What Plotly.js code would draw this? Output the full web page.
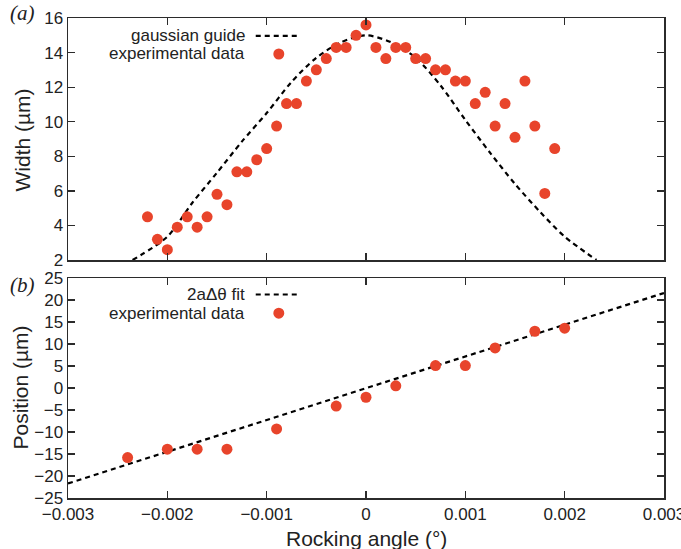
<!DOCTYPE html>
<html>
<head>
<meta charset="utf-8">
<script src="https://cdn.plot.ly/plotly-3.0.1.min.js"></script>
<style>html,body{margin:0;padding:0;background:#fff;}#chart{width:681px;height:549px;}</style>
</head>
<body>
<div id="chart"></div>
<script>
// Panel (a): width vs rocking angle
const widthAngle = [-0.0022,-0.0021,-0.0020,-0.0019,-0.0018,-0.0017,-0.0016,-0.0015,-0.0014,-0.0013,-0.0012,-0.0011,-0.0010,-0.0009,-0.0008,-0.0007,-0.0006,-0.0005,-0.0004,-0.0003,-0.0002,-0.0001,0,0.0001,0.0002,0.0003,0.0004,0.0005,0.0006,0.0007,0.0008,0.0009,0.0010,0.0011,0.0012,0.0013,0.0014,0.0015,0.0016,0.0017,0.0018,0.0019];
const widthValues = [4.5,3.2,2.6,3.9,4.5,3.9,4.5,5.8,5.2,7.1,7.1,7.8,8.45,9.75,11.05,11.05,12.35,13.0,13.65,14.3,14.3,15.0,15.6,14.3,13.65,14.3,14.3,13.65,13.65,13.0,13.0,12.35,12.35,11.05,11.7,9.75,11.05,9.1,12.35,9.75,5.85,8.45];
const guideAngle = [-0.00235,-0.002,-0.00175,-0.0015,-0.00125,-0.001,-0.00075,-0.0005,-0.00025,0,0.00025,0.0005,0.00075,0.001,0.00125,0.0015,0.00175,0.002,0.00232];
const guideWidth = [2.0,3.35,5.3,7.05,8.85,10.5,12.3,13.7,14.6,15.0,14.6,13.7,12.1,10.1,8.2,6.4,4.8,3.35,2.0];

// Panel (b): position vs rocking angle
const posAngle = [-0.0024,-0.0020,-0.0017,-0.0014,-0.0009,-0.0003,0,0.0003,0.0007,0.0010,0.0013,0.0017,0.0020];
const posValues = [-15.8,-13.9,-13.9,-13.9,-9.3,-4.1,-2.1,0.5,5.1,5.1,9.1,12.9,13.6];
const fitAngle = [-0.003,0.003];
const fitPos = [-21.7,21.6];

const xTicks = [-0.003,-0.002,-0.001,0,0.001,0.002,0.003];
const xTickText = ["\u22120.003","\u22120.002","\u22120.001","0","0.001","0.002","0.003"];
const yTicksA = [2,4,6,8,10,12,14,16];
const yTicksB = [-25,-20,-15,-10,-5,0,5,10,15,20,25];
const yTickTextB = ["\u221225","\u221220","\u221215","\u221210","\u22125","0","5","10","15","20","25"];

const RED = '#e8442b';
const DASH = '5px,4px';
const AX = '#2b2b2b';
const FONT = 'Liberation Sans, Arial, sans-serif';
const XR = [-0.0030001, 0.0030001];

const traces = [
  {x: guideAngle, y: guideWidth, xaxis:'x', yaxis:'y', mode:'lines', line:{color:'#000', width:2.2, dash:DASH, shape:'spline', smoothing:0.8}, showlegend:false, hoverinfo:'skip'},
  {x: widthAngle, y: widthValues, xaxis:'x', yaxis:'y', mode:'markers', marker:{color:RED, size:11}, showlegend:false},
  {x: fitAngle, y: fitPos, xaxis:'x2', yaxis:'y2', mode:'lines', line:{color:'#000', width:2.2, dash:DASH}, showlegend:false, hoverinfo:'skip'},
  {x: posAngle, y: posValues, xaxis:'x2', yaxis:'y2', mode:'markers', marker:{color:RED, size:11}, showlegend:false}
];

const axBase = {
  showgrid:false, zeroline:false, showline:true, linecolor:AX, linewidth:1.5,
  mirror:'ticks', ticks:'inside', ticklen:7, tickwidth:1.3, tickcolor:AX,
  ticklabeloverflow:'allow',
  tickfont:{family:FONT, size:17, color:'#222'}
};

const layout = {
  width:681, height:549,
  margin:{l:68, r:17, t:18, b:51},
  paper_bgcolor:'#fff', plot_bgcolor:'#fff',
  showlegend:false,
  xaxis: Object.assign({}, axBase, {domain:[0,1], anchor:'y', range:XR, tickmode:'array', tickvals:xTicks, ticktext:xTickText, showticklabels:false}),
  yaxis: Object.assign({}, axBase, {domain:[0.4958,1], anchor:'x', range:[2,16], tickmode:'array', tickvals:yTicksA}),
  xaxis2: Object.assign({}, axBase, {domain:[0,1], anchor:'y2', range:XR, tickmode:'array', tickvals:xTicks, ticktext:xTickText}),
  yaxis2: Object.assign({}, axBase, {domain:[0,0.4583], anchor:'x2', range:[-25,25], tickmode:'array', tickvals:yTicksB, ticktext:yTickTextB}),
  annotations: [
    {text:'Width (µm)', xref:'paper', yref:'paper', x:-0.077, y:0.745, xanchor:'center', yanchor:'middle', textangle:-90, showarrow:false, font:{family:FONT, size:21, color:'#222'}},
    {text:'Position (µm)', xref:'paper', yref:'paper', x:-0.079, y:0.23, xanchor:'center', yanchor:'middle', textangle:-90, showarrow:false, font:{family:FONT, size:21, color:'#222'}},
    {text:'Rocking angle (°)', xref:'paper', yref:'paper', x:0.5, y:-0.085, xanchor:'center', yanchor:'middle', showarrow:false, font:{family:FONT, size:21, color:'#222'}},
    {text:'<i>(a)</i>', xref:'paper', yref:'paper', x:-0.077, y:1.01, xanchor:'center', yanchor:'middle', showarrow:false, font:{family:'Liberation Serif, serif', size:21, color:'#222'}},
    {text:'<i>(b)</i>', xref:'paper', yref:'paper', x:-0.077, y:0.443, xanchor:'center', yanchor:'middle', showarrow:false, font:{family:'Liberation Serif, serif', size:21, color:'#222'}},
    {text:'gaussian guide', xref:'paper', yref:'paper', x:0.3005, y:0.9626, xanchor:'right', yanchor:'middle', showarrow:false, font:{family:FONT, size:17, color:'#222'}},
    {text:'experimental data', xref:'paper', yref:'paper', x:0.3005, y:0.925, xanchor:'right', yanchor:'middle', showarrow:false, font:{family:FONT, size:17, color:'#222'}},
    {text:'2aΔθ fit', xref:'paper', yref:'paper', x:0.3005, y:0.424, xanchor:'right', yanchor:'middle', showarrow:false, font:{family:FONT, size:17, color:'#222'}},
    {text:'experimental data', xref:'paper', yref:'paper', x:0.3005, y:0.385, xanchor:'right', yanchor:'middle', showarrow:false, font:{family:FONT, size:17, color:'#222'}},
    {text:'<b>Figure 2</b>', xref:'paper', yref:'paper', x:-0.095, y:-0.099, xanchor:'left', yanchor:'top', showarrow:false, font:{family:FONT, size:20, color:'#555'}}
  ],
  shapes: [
    {type:'line', xref:'paper', yref:'paper', x0:0.315, x1:0.39, y0:0.9626, y1:0.9626, line:{color:'#000', width:2.2, dash:DASH}},
    {type:'circle', xref:'paper', yref:'paper', x0:0.3445, x1:0.3629, y0:0.9135, y1:0.9365, fillcolor:RED, line:{width:0}},
    {type:'line', xref:'paper', yref:'paper', x0:0.315, x1:0.39, y0:0.424, y1:0.424, line:{color:'#000', width:2.2, dash:DASH}},
    {type:'circle', xref:'paper', yref:'paper', x0:0.3445, x1:0.3629, y0:0.3735, y1:0.3965, fillcolor:RED, line:{width:0}}
  ]
};

Plotly.newPlot('chart', traces, layout, {displayModeBar:false, staticPlot:true});
</script>
</body>
</html>
